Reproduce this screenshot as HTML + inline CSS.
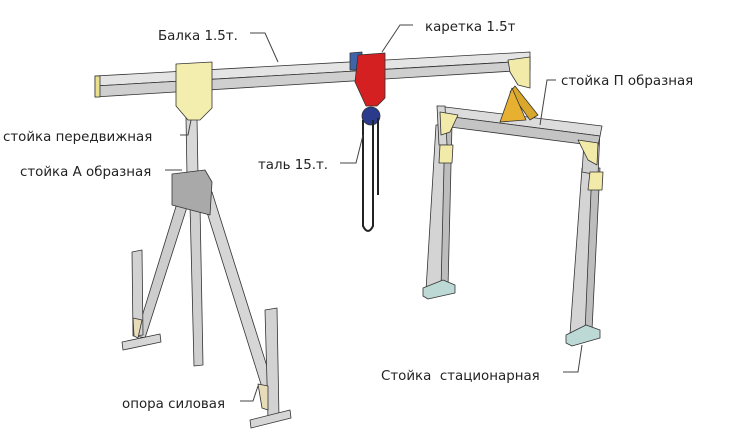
<!DOCTYPE html>
<html><head><meta charset="utf-8"><style>
html,body{margin:0;padding:0;background:#fff}
svg{display:block}
text{font-family:"DejaVu Sans","Liberation Sans",sans-serif;font-size:13.4px;fill:#222}
</style></head><body>
<svg width="736" height="443" viewBox="0 0 736 443" xmlns="http://www.w3.org/2000/svg">
<g stroke="#333" stroke-width="0.8" stroke-linejoin="round">
<!-- right P frame legs -->
<polygon points="436,125 450,124 446,288 426,290" fill="#d4d4d4"/>
<polygon points="445,124 452,124 448,288 441,289" fill="#bdbdbd"/>
<polygon points="582,168 598,168 590,330 570,334" fill="#d4d4d4"/>
<polygon points="592,168 600,168 592,330 585,332" fill="#bdbdbd"/>
<polygon points="585,128 600,130 598,175 582,172" fill="#cfcfcf"/>
<!-- P top beam -->
<polygon points="437,106 602,126 600,136 445,116" fill="#dcdcdc"/>
<polygon points="445,116 600,136 598,146 450,127" fill="#c4c4c4"/>
<polygon points="437,106 445,106 447,145 439,145" fill="#d6d6d6"/>
<!-- gussets -->
<polygon points="440,112 458,115 450,132 441,135" fill="#f2eaa8"/>
<polygon points="578,140 598,143 597,165 588,160" fill="#f2eaa8"/>
<polygon points="440,145 453,145 452,163 439,163" fill="#f2eaa8"/>
<polygon points="590,172 603,172 602,190 588,190" fill="#f2eaa8"/>
<!-- feet -->
<polygon points="423,288 443,280 455,285 455,293 428,299 423,296" fill="#bcd9d6"/>
<polygon points="566,335 586,325 600,330 600,338 572,346 566,343" fill="#bcd9d6"/>
<!-- orange supports -->
<polygon points="515,86 538,115 530,120 510,92" fill="#d9a72c"/>
<polygon points="512,88 526,120 500,122" fill="#e8b030"/>
<!-- main beam -->
<polygon points="95,76 530,52 530,61 95,86" fill="#e4e4e4"/>
<polygon points="95,86 530,61 530,70 95,97" fill="#cfcfcf"/>
<polygon points="95,76 100,76 100,97 95,97" fill="#e8e08c"/>
<polygon points="508,60 530,57 530,88 518,85 510,72" fill="#f2eaa8"/>
<!-- post movable -->
<polygon points="186,118 197,118 198,175 187,175" fill="#d8d8d8"/>
<!-- yellow plate -->
<polygon points="176,64 212,62 212,108 200,120 188,120 176,106" fill="#f4eeae"/>
<!-- red carriage -->
<polygon points="350,53 362,52 362,70 350,70" fill="#3f64a8"/>
<polygon points="358,55 385,53 385,98 377,106 366,106 355,82" fill="#d42020"/>
<!-- A frame legs -->
<polygon points="190,205 200,205 203,365 194,366" fill="#cfcfcf"/>
<polygon points="178,200 188,204 145,338 136,336" fill="#cdcdcd"/>
<polygon points="200,190 212,192 276,395 265,397" fill="#d6d6d6"/>
<polygon points="172,174 205,170 212,182 210,215 172,205" fill="#a9a9a9"/>
<!-- left foot -->
<polygon points="132,252 142,250 143,335 133,336" fill="#d2d2d2"/>
<polygon points="122,342 160,334 161,342 123,350" fill="#d6d6d6"/>
<polygon points="133,318 142,320 138,338 134,336" fill="#e8dcb8"/>
<!-- right foot -->
<polygon points="265,310 277,308 279,418 268,418" fill="#d2d2d2"/>
<polygon points="250,420 290,410 291,418 251,428" fill="#d6d6d6"/>
<polygon points="258,384 268,386 268,410 262,408" fill="#e8dcb8"/>
<!-- pulley and chain -->
<circle cx="371" cy="116" r="9" fill="#2a3a8c"/>
</g>
<g fill="none" stroke="#222" stroke-width="2">
<path d="M363,120 L363,226 Q368,236 373,226 L373,120"/>
<path d="M378,118 L378,195"/>
</g>
<!-- leaders -->
<g fill="none" stroke="#444" stroke-width="1">
<path d="M250,33 L265,33 L278,62"/>
<path d="M413,25 L400,25 L382,52"/>
<path d="M556,80 L547,80 L540,125"/>
<path d="M180,135 L188,135 L191,120"/>
<path d="M165,170 L182,170"/>
<path d="M340,163 L356,163 L363,135"/>
<path d="M563,372 L578,372 L582,345"/>
<path d="M240,401 L253,401 L258,386"/>
</g>
<text x="158" y="40">Балка 1.5т.</text>
<text x="425" y="31">каретка 1.5т</text>
<text x="561" y="85">стойка П образная</text>
<text x="3" y="141">стойка передвижная</text>
<text x="20" y="176">стойка А образная</text>
<text x="258" y="169">таль 15.т.</text>
<text x="381" y="380" xml:space="preserve">Стойка  стационарная</text>
<text x="122" y="408">опора силовая</text>
</svg>
</body></html>
